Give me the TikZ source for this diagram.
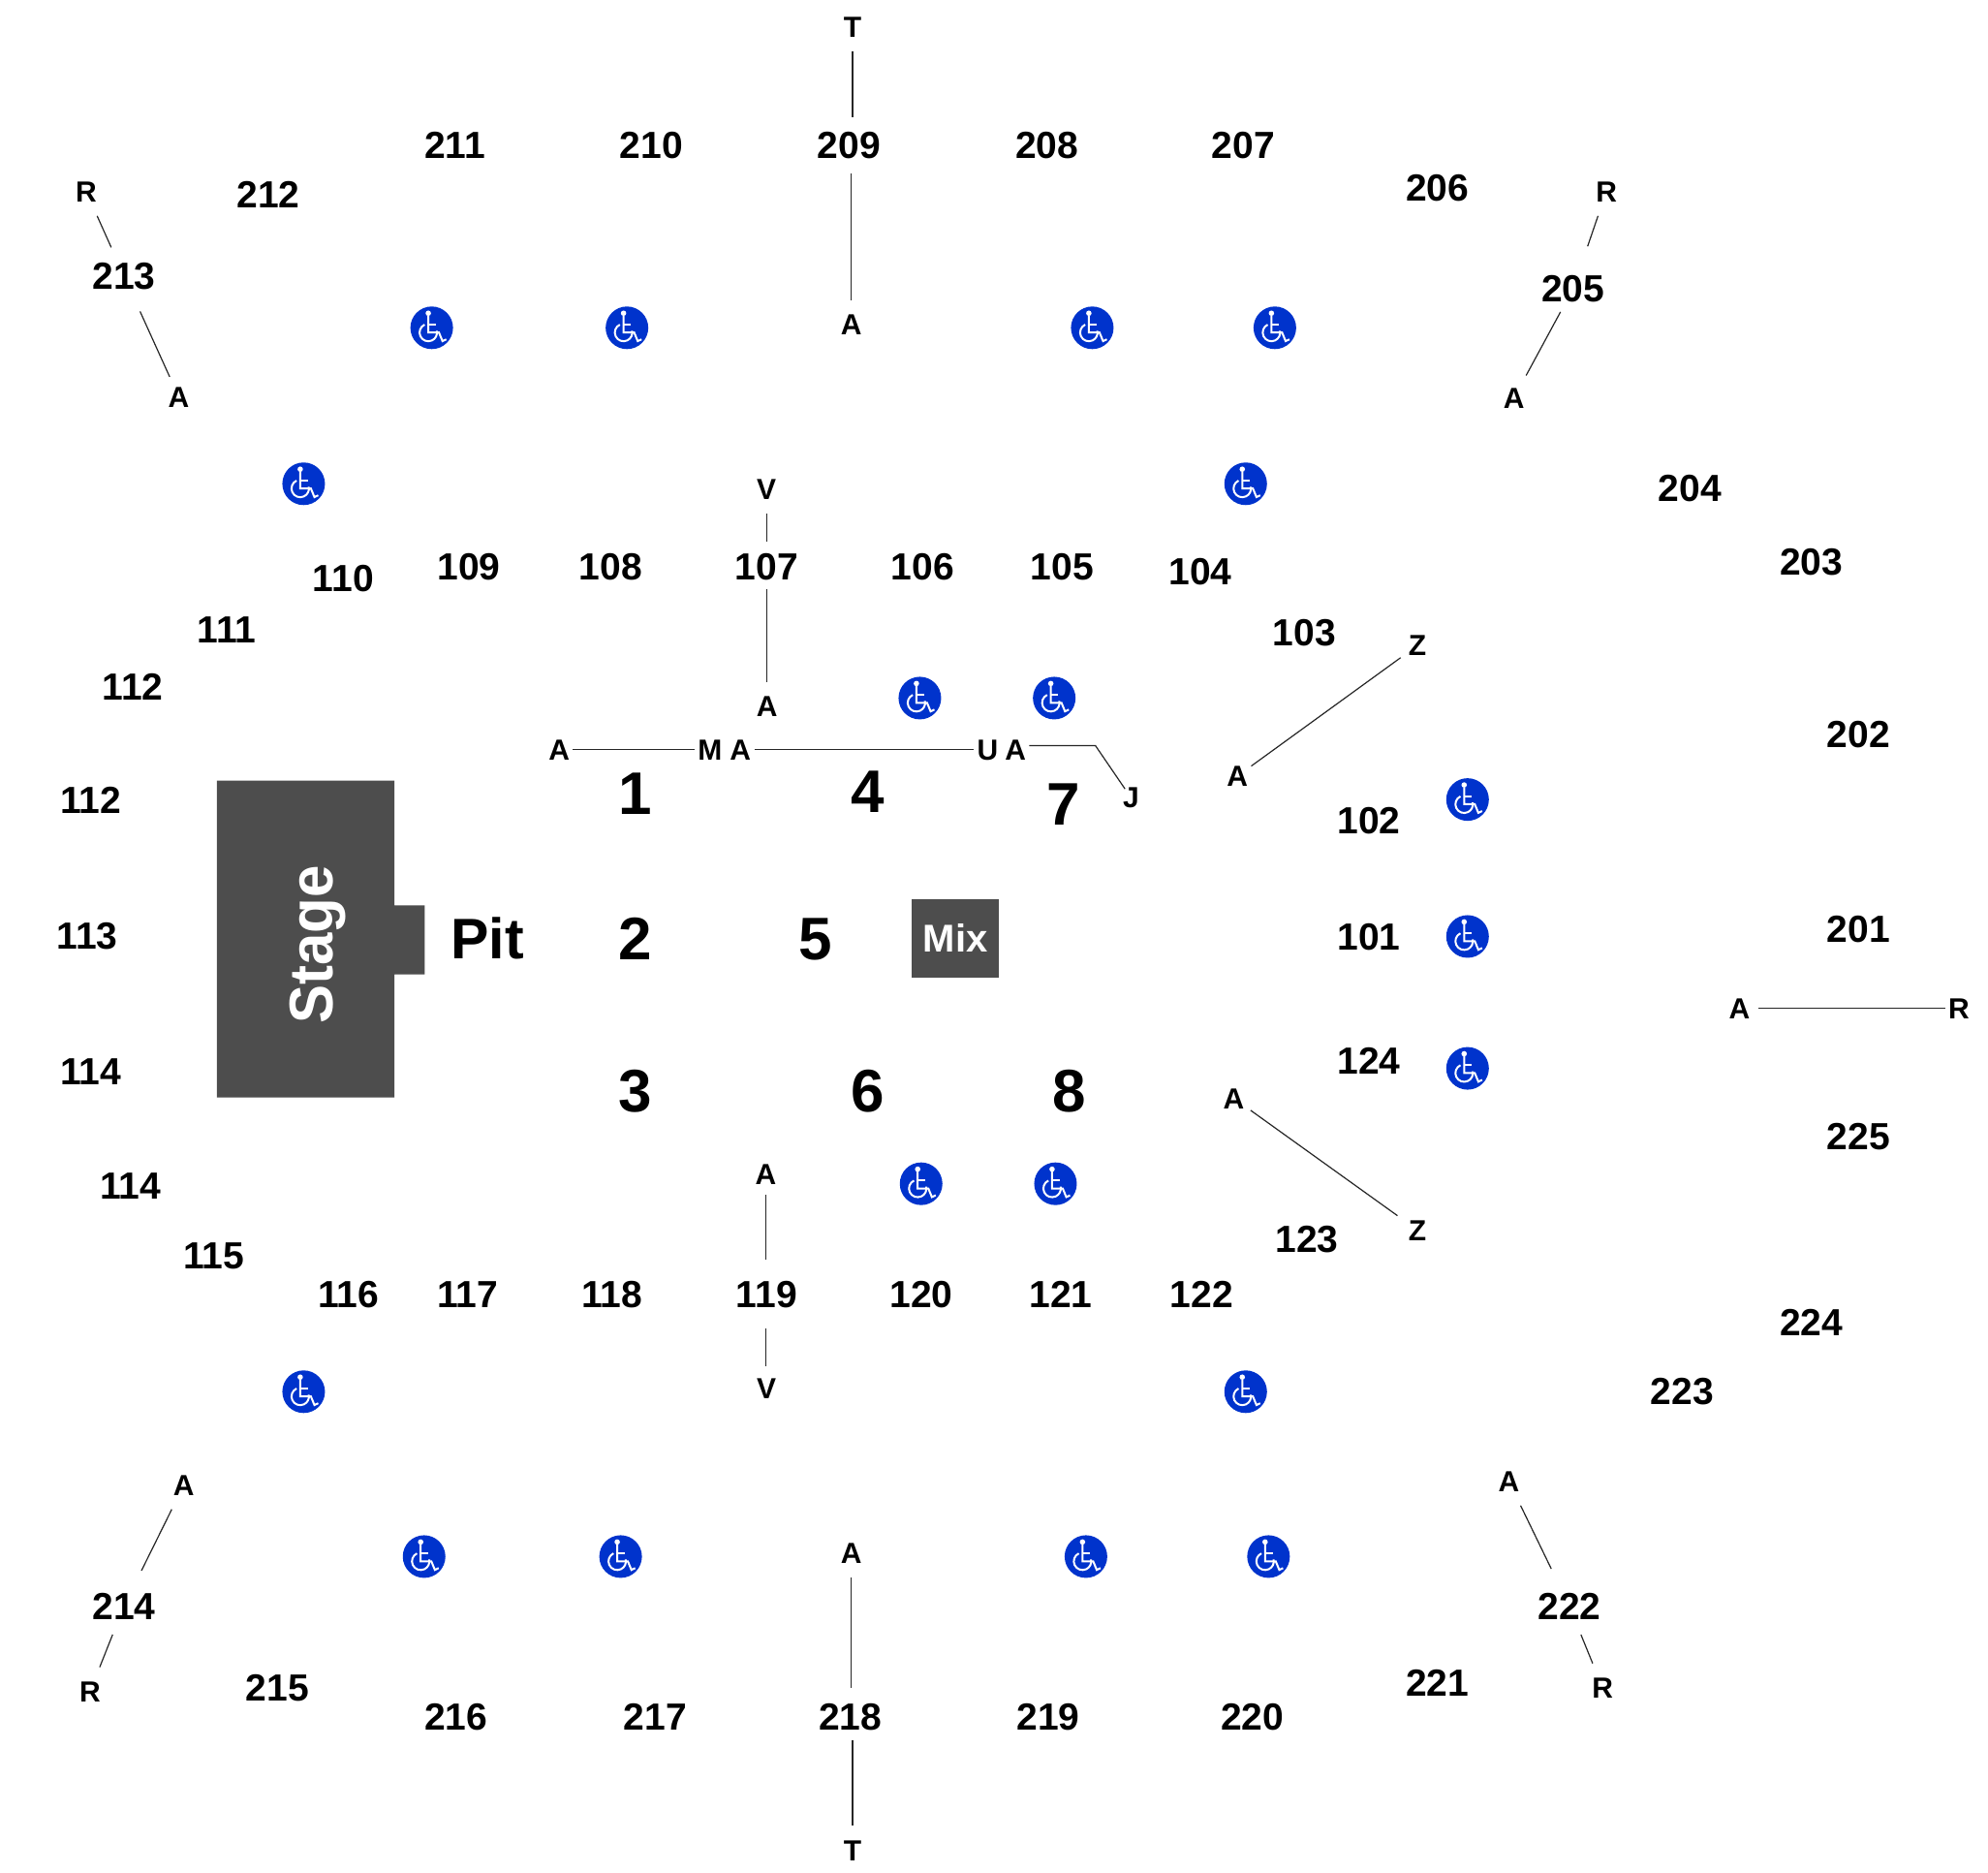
\documentclass[tikz,border=0pt]{standalone}
\usepackage{fontspec}
\setmainfont{Liberation Sans}
\definecolor{stagegray}{HTML}{4D4D4D}
\definecolor{accessblue}{HTML}{0033CC}
\tikzset{
    seat/.style = {font=\fontsize{19.5}{20}\selectfont\bfseries,text height=14pt,text depth=0pt,inner xsep=1.5pt,inner ysep=7.5pt,xshift=0.5pt,yshift=0.3pt},
    row/.style = {font=\fontsize{15}{16}\selectfont\bfseries,text height=10.8pt,text depth=0pt,inner xsep=1.5pt,inner ysep=7pt},
    floor/.style = {font=\fontsize{31}{32}\selectfont\bfseries,text height=22.3pt,text depth=0pt},
    link/.style = {draw=black!85,line width=0.6pt},
    block/.style = {fill=stagegray,draw=none},
    access/.pic = {
        \fill[accessblue] (0.5,0.5) circle (11pt);
        \fill[white] (-2.2,-11) circle (1.4pt);
        \draw[white,line width=1pt] (-2.2,-9) -- (-2.2,4.2) -- (6.2,4.2) -- (9,11) -- (12,9.6);
        \draw[white,line width=1pt] (-2.2,-2.2) -- (3.8,-2.2);
        \draw[white,line width=1pt] (-5.1,-2) arc[start angle=115,end angle=372,radius=4.5pt];
    }
}
\begin{document}
\begin{tikzpicture}[x=0.6543pt,y=-0.6543pt]
    \useasboundingbox (0,0) rectangle (1568,1477);
    % stage and mix
    \fill[block] (171,615.5) -- (311,615.5) -- (311,714) -- (335,714) -- (335,768.5) -- (311,768.5) -- (311,865.5) -- (171,865.5) -- cycle;
    \node[rotate=90,text=white,font=\fontsize{30}{31}\selectfont\bfseries] (stage) at (251,745) {\scalebox{1}[1.06]{Stage}};
    \node[block,minimum width=45.1pt,minimum height=40.6pt,inner sep=0pt,text=white,font=\fontsize{20}{21}\selectfont\bfseries] (mix) at (753.5,740) {Mix};
    \node[floor,font=\fontsize{29.5}{30}\selectfont\bfseries] (pit) at (384.5,739) {Pit};
    % floor sections
    \foreach \name/\x/\y in {1/501/625.5,4/684.5/623.5,7/839/633.5,2/501/739.5,5/643/739.5,3/501/859.5,6/684.5/859.5,8/843.5/859.5}{
        \node[floor] (f\name) at (\x,\y) {\name};
    }
    % upper level
    \foreach \name/\x/\y in {211/358/115,210/513/115,209/669/115,208/825/115,207/980/115,206/1133/148,212/211/154,213/97/218,
        205/1240/228,204/1332/385,203/1428/443,202/1465/579,201/1465/733,225/1465/896,224/1428/1043,223/1326/1097,
        222/1237/1267,221/1133/1327,220/987/1354,219/826/1354,218/670/1354,217/516/1354,216/359/1354,215/218/1331,214/97/1267}{
        \node[seat] (s\name) at (\x,\y) {\name};
    }
    % lower level
    \foreach \name/\x/\y in {110/270/456,109/369/447,108/481/447,107/604/447,106/727/447,105/837/447,104/946/451,103/1028/499,
        102/1079/647,101/1079/739,124/1079/837,123/1030/977,122/947/1021,121/836/1021,120/726/1021,119/604/1021,118/482/1021,
        117/368/1021,116/274/1021,115/168/990,113/68/738,111/178/497}{
        \node[seat] (s\name) at (\x,\y) {\name};
    }
    \node[seat] (s112up) at (104,542) {112};
    \node[seat] (s112lo) at (71,631) {112};
    \node[seat] (s114up) at (71,845) {114};
    \node[seat] (s114lo) at (102,935) {114};
    % row letters
    \foreach \id/\txt/\x/\y in {top/T/672.5/21,atop/A/671.5/256,vup/V/604.5/386,aup/A/605/557,aone/A/441/591,mone/M/560/591,
        afour/A/584/591,ufour/U/779/591,aseven/A/801/591,jseven/J/892/629,aright/A/976/612,zright/Z/1118/509,
        alow/A/973/866,zlow/Z/1118/970,aend/A/1372/795,rend/R/1545/795,adown/A/604/926,vdown/V/604.5/1095,
        abot/A/671.5/1225,bot/T/672.5/1459,rnw/R/68/151,anw/A/141/313,rne/R/1267/151,ane/A/1194/314,
        asw/A/145/1171,rsw/R/71/1334,ase/A/1190/1168,rse/R/1264/1331}{
        \node[row] (\id) at (\x,\y) {\txt};
    }
    \coordinate (jbend) at (864,588);
    % connectors
    \draw[link] (top) -- (top |- s209.north);
    \draw[link] (atop |- s209.south) -- (atop);
    \draw[link,shorten >=-2pt] (vup) -- (vup |- s107.north);
    \draw[link,shorten <=-3pt] (vup |- s107.south) -- (vup |- aup.north);
    \draw[link] (aone) -- (mone);
    \draw[link] (afour) -- (ufour);
    \draw[link,shorten >=-5pt] (aseven.east |- jbend) -- (jbend) -- (jseven);
    \draw[link,shorten >=3pt] (aright) -- (zright);
    \draw[link,shorten <=2pt,shorten >=5pt] (alow) -- (zlow);
    \draw[link,shorten <=2.5pt] (aend) -- (rend);
    \draw[link,shorten <=-2pt,shorten >=3pt] (adown) -- (adown |- s119.north);
    \draw[link,shorten <=3pt,shorten >=-1pt] (adown |- s119.south) -- (adown |- vdown.north);
    \draw[link] (abot) -- (abot |- s218.north);
    \draw[link,shorten <=-2.5pt] (bot |- s218.south) -- (bot);
    \draw[link] (rnw) -- (s213);
    \draw[link,shorten <=4pt,shorten >=-2.5pt] (s213) -- (anw);
    \draw[link,shorten >=7.5pt] (rne) -- (s205);
    \draw[link,shorten <=-3pt,shorten >=-1pt] (s205) -- (ane);
    \draw[link,shorten >=4pt] (asw) -- (s214);
    \draw[link] (s214) -- (rsw);
    \draw[link,shorten >=5pt] (ase) -- (s222);
    \draw[link] (s222) -- (rse);
    % accessible seating
    \foreach \x/\y in {340/258,494/258,861/258,1005/258,239/381,982/381,725/550,831/550,1157/630,1157/738,1157/842,
        726/933,832/933,239/1097,982/1097,334/1227,489/1227,856/1227,1000/1227}{
        \pic at (\x,\y) {access};
    }
\end{tikzpicture}
\end{document}
